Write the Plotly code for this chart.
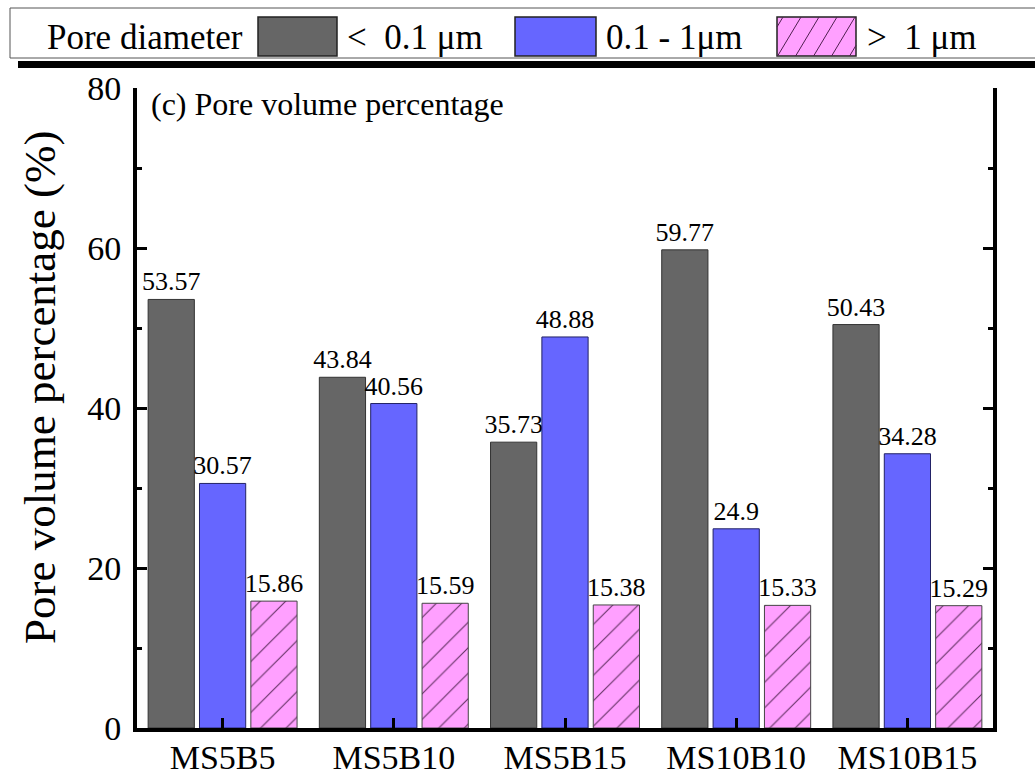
import plotly.graph_objects as go

categories = ["MS5B5", "MS5B10", "MS5B15", "MS10B10", "MS10B15"]
small_pores = [53.57, 43.84, 35.73, 59.77, 50.43]
mid_pores = [30.57, 40.56, 48.88, 24.9, 34.28]
large_pores = [15.86, 15.59, 15.38, 15.33, 15.29]
series_names = ["<\u00a0\u00a00.1 μm", "0.1 - 1μm", ">\u00a0\u00a01 μm"]
y_ticks = [0, 20, 40, 60, 80]

FONT = "Liberation Serif"
W, H = 1035, 774
L, R, T, B = 137, 993, 88, 728

def px(x):
    return (x - L) / (R - L)

def py(y):
    return (B - y) / (B - T)

fig = go.Figure()
common = dict(textposition="outside", constraintext="none", cliponaxis=False,
              textfont=dict(family=FONT, size=26, color="black"), showlegend=False)
fig.add_trace(go.Bar(x=categories, y=small_pores, text=small_pores, name=series_names[0],
                     marker=dict(color="#666666", line=dict(color="#333333", width=1)), **common))
fig.add_trace(go.Bar(x=categories, y=mid_pores, text=mid_pores, name=series_names[1],
                     marker=dict(color="#6666FF", line=dict(color="#222266", width=1)), **common))
fig.add_trace(go.Bar(x=categories, y=large_pores, text=large_pores, name=series_names[2],
                     marker=dict(color="#FFA0FF", line=dict(color="#444444", width=1),
                                 pattern=dict(shape="/", fgcolor="#603060", bgcolor="#FFA0FF",
                                              size=18, solidity=0.06, fillmode="replace")),
                     **common))

shapes = []
annotations = []
shapes.append(dict(type="rect", xref="paper", yref="paper", x0=px(10), x1=px(1045),
                   y0=py(58), y1=py(8), line=dict(color="#555555", width=1), fillcolor="white", layer="above"))
shapes.append(dict(type="rect", xref="paper", yref="paper", x0=px(18), x1=px(1045),
                   y0=py(68), y1=py(61), line=dict(width=0), fillcolor="black", layer="above"))
sw = [(258, 337, "#666666"), (515, 596, "#6666FF"), (777, 856, "#FFA0FF")]
sy0, sy1 = 17, 56
for x0, x1, c in sw:
    shapes.append(dict(type="rect", xref="paper", yref="paper", x0=px(x0), x1=px(x1),
                       y0=py(sy1), y1=py(sy0), line=dict(color="#222222", width=1.5),
                       fillcolor=c, layer="above"))
hx0, hx1 = 777, 856
k = 0.6
hgt = sy1 - sy0
start = hx0 - hgt * k
xb = start + 6
while xb < hx1:
    xa, ya = xb, sy1
    xc, yc = xb + hgt * k, sy0
    if xa < hx0:
        t = (hx0 - xa) / (xc - xa)
        xa, ya = hx0, sy1 - t * hgt
    if xc > hx1:
        t = (hx1 - xb) / (hgt * k)
        xc, yc = hx1, sy1 - t * hgt
    if xc > xa:
        shapes.append(dict(type="line", xref="paper", yref="paper", x0=px(xa), y0=py(ya),
                           x1=px(xc), y1=py(yc), line=dict(color="#502050", width=1), layer="above"))
    xb += 18

leg_texts = [("Pore diameter", 48), (series_names[0], 348), (series_names[1], 607), (series_names[2], 868)]
for txt, x in leg_texts:
    annotations.append(dict(text=txt, xref="paper", yref="paper", x=px(x - 3), y=py(37),
                            xanchor="left", yanchor="middle", showarrow=False,
                            font=dict(family=FONT, size=35, color="black")))

annotations.append(dict(text="(c) Pore volume percentage", xref="paper", yref="paper",
                        x=px(149), y=py(104), xanchor="left", yanchor="middle", showarrow=False,
                        font=dict(family=FONT, size=32, color="black")))
annotations.append(dict(text="Pore volume percentage (%)", xref="paper", yref="paper",
                        x=px(40), y=py(387), xanchor="center", yanchor="middle", showarrow=False,
                        textangle=-90, font=dict(family=FONT, size=45, color="black")))

fig.update_layout(
    width=W, height=H,
    margin=dict(l=L, r=W - R, t=T, b=H - B, autoexpand=False),
    paper_bgcolor="white", plot_bgcolor="white",
    barmode="group", bargap=0.1, bargroupgap=0.1,
    shapes=shapes, annotations=annotations,
    font=dict(family=FONT, color="black"),
)
fig.update_xaxes(showline=True, linewidth=4, linecolor="black", ticks="inside", ticklen=10,
                 tickwidth=3, tickcolor="black", range=[-0.5, 4.5], showgrid=False,
                 automargin=False, ticklabelstandoff=-4,
                 tickfont=dict(family=FONT, size=34, color="black"))
fig.update_yaxes(showline=True, linewidth=4, linecolor="black", ticks="inside", ticklen=10,
                 tickwidth=3, tickcolor="black", mirror="ticks", range=[0, 80],
                 tickvals=y_ticks, showgrid=False, zeroline=False, automargin=False,
                 ticklabelstandoff=5,
                 minor=dict(dtick=10, ticks="inside", ticklen=5, tickwidth=3, tickcolor="black"),
                 tickfont=dict(family=FONT, size=34, color="black"))

fig.write_html("out.html")
